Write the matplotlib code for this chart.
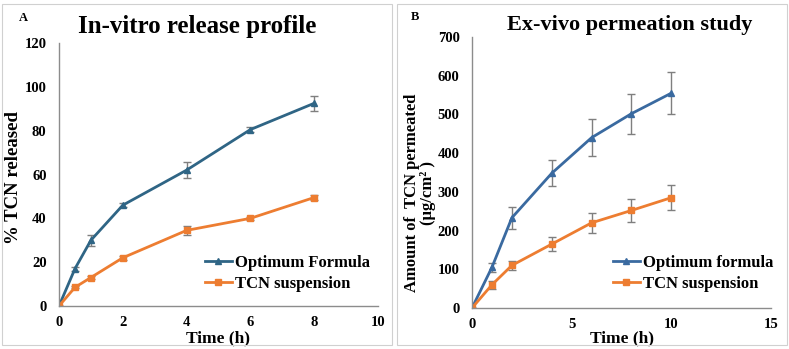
import matplotlib
matplotlib.use("Agg")
import matplotlib.pyplot as plt
from matplotlib.patches import Rectangle
from matplotlib.lines import Line2D

plt.rcParams["font.family"] = ["Liberation Serif", "DejaVu Serif"]
plt.rcParams["font.weight"] = "bold"

# panel A: in-vitro release
time_a = [0, 0.5, 1, 2, 4, 6, 8]
opt_a = [0, 17, 30, 46, 62, 80.5, 92.5]
opt_a_err = [0, 1, 2.5, 1, 3.5, 1, 3.5]
susp_a = [0, 8.5, 13, 22, 34.5, 40, 49.5]
susp_a_err = [0, 0.5, 0.8, 0.8, 2, 0.8, 1]

# panel B: ex-vivo permeation
time_b = [0, 1, 2, 4, 6, 8, 10]
opt_b = [0, 105, 233, 348, 440, 502, 555]
opt_b_err = [0, 12, 28, 33, 48, 52, 55]
susp_b = [0, 60, 110, 165, 220, 252, 285]
susp_b_err = [0, 10, 12, 18, 25, 30, 33]

ORANGE = "#ED7D31"
BLUE_A = "#2F6585"
BLUE_B = "#3A6AA0"

fig = plt.figure(figsize=(7.89, 3.49), dpi=100)

# light frames around each panel
for x0 in (2 / 789, 397 / 789):
    fig.patches.append(Rectangle((x0, 4 / 349), 390 / 789, 341 / 349,
                                 transform=fig.transFigure, fill=False,
                                 ec="#d0d0d0", lw=0.8))

axA = fig.add_axes([59 / 789, 1 - 306 / 349, (378 - 59) / 789, (306 - 43) / 349])
axB = fig.add_axes([472 / 789, 1 - 308 / 349, (771 - 472) / 789, (308 - 37) / 349])


def style(ax):
    for s in ("top", "right"):
        ax.spines[s].set_visible(False)
    for s in ("left", "bottom"):
        ax.spines[s].set_color("#8c8c8c")
        ax.spines[s].set_linewidth(1)
    ax.tick_params(axis="y", length=0, labelsize=10.5, pad=9)
    ax.tick_params(axis="x", length=0, labelsize=10.5, pad=7)
    for lab in ax.get_xticklabels() + ax.get_yticklabels():
        lab.set_fontweight("bold")


def legend(ax, labels, colors, markers, x, y):
    handles = [Line2D([], [], color=c, marker=m, lw=2, ms=4)
               for c, m in zip(colors, markers)]
    ax.legend(handles, labels, loc="center left", bbox_to_anchor=(x, y),
              frameon=False, prop=dict(weight="bold", size=12),
              handlelength=1.6, handletextpad=0.2, labelspacing=0.3,
              borderpad=0, borderaxespad=0)


ekw = dict(ecolor="#7f7f7f", elinewidth=1, capsize=3, capthick=1, lw=2, ms=4)
axA.errorbar(time_a, opt_a, yerr=opt_a_err, color=BLUE_A, marker="^", **ekw)
axA.errorbar(time_a, susp_a, yerr=susp_a_err, color=ORANGE, marker="s", **ekw)
axA.set_xlim(0, 10)
axA.set_ylim(0, 120)
axA.set_xticks([0, 2, 4, 6, 8, 10])
axA.set_yticks(range(0, 121, 20))
style(axA)
axA.set_xlabel("Time (h)", fontsize=12.5, fontweight="bold", labelpad=1)
axA.set_ylabel("% TCN released", fontsize=13.5, fontweight="bold", va="center")
axA.yaxis.set_label_coords(-0.144, 0.487)
legend(axA, ["Optimum Formula", "TCN suspension"], [BLUE_A, ORANGE],
       ["^", "s"], 0.458, 0.125)

axB.errorbar(time_b, opt_b, yerr=opt_b_err, color=BLUE_B, marker="^", **ekw)
axB.errorbar(time_b, susp_b, yerr=susp_b_err, color=ORANGE, marker="s", **ekw)
axB.set_xlim(0, 15)
axB.set_ylim(0, 700)
axB.set_xticks([0, 5, 10, 15])
axB.set_yticks(range(0, 701, 100))
style(axB)
axB.set_xlabel("Time (h)", fontsize=12.5, fontweight="bold", labelpad=0)
axB.set_ylabel("Amount of  TCN permeated\n(µg/cm² )", fontsize=12,
               fontweight="bold", linespacing=1.05, va="center")
axB.yaxis.set_label_coords(-0.174, 0.424)
legend(axB, ["Optimum formula", "TCN suspension"], [BLUE_B, ORANGE],
       ["^", "s"], 0.472, 0.128)

fig.text(197 / 789, 1 - 27 / 349, "In-vitro release profile", ha="center",
         va="center", fontsize=18, fontweight="bold")
fig.text(630 / 789, 1 - 25 / 349, "Ex-vivo permeation study", ha="center",
         va="center", fontsize=16, fontweight="bold")
fig.text(23 / 789, 1 - 18 / 349, "A", ha="center", va="center", fontsize=9,
         fontweight="bold")
fig.text(415 / 789, 1 - 17 / 349, "B", ha="center", va="center", fontsize=9,
         fontweight="bold")

fig.savefig("out.png", dpi=100)
